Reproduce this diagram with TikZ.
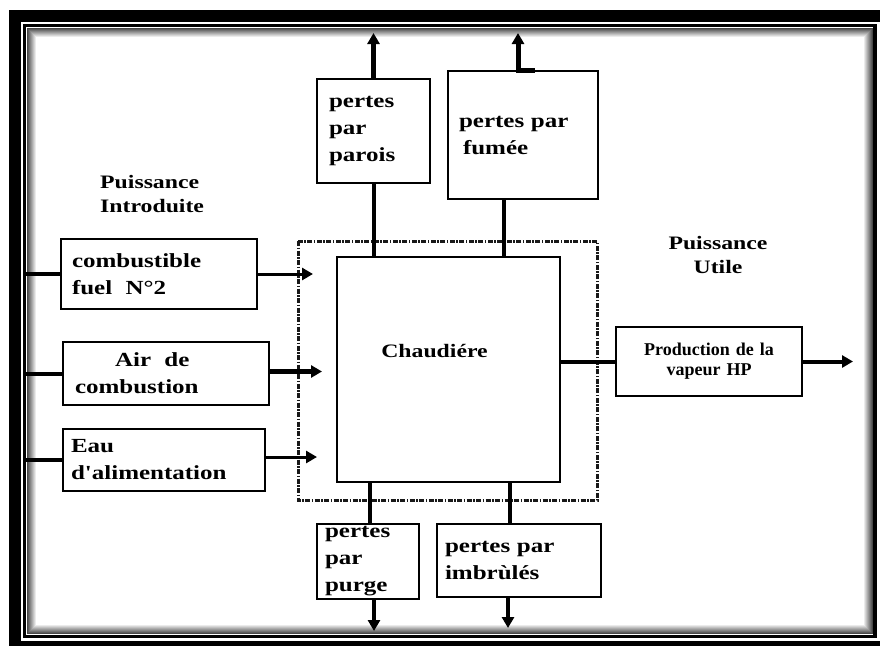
\documentclass[tikz,border=0pt]{standalone}
\usepackage{fontspec}
\setmainfont{Liberation Serif}
\newfontfamily\widefont{Liberation Serif}[FakeStretch=1.25]
\usetikzlibrary{arrows.meta}

\tikzset{
  bloc/.style={draw, line width=1.2pt, inner xsep=9pt, inner ysep=0pt, align=left,
    font=\widefont\bfseries\fontsize{20}{27}\selectfont},
  titre/.style={inner sep=0pt, font=\widefont\bfseries\fontsize{19}{24}\selectfont},
  lien/.style={line width=4pt},
  fleche/.style={line width=4pt, -{Triangle[length=11pt,width=12pt]}},
}

\begin{document}
\begin{tikzpicture}[x=1pt,y=-1pt]
        \useasboundingbox (0,0) rectangle (880,646);

        % cadre
        \fill[black] (9,10) rectangle (880,646);
        \fill[white] (21,22) rectangle (880,641);
        \foreach \k in {1,...,10} {
          \pgfmathtruncatemacro\g{80-8*\k}
          \draw[black!\g, line width=1pt] ({26+\k},{27+\k}) rectangle ({873-\k},{634-\k});
        }
        \draw[line width=3.5pt] (24.5,25.5) rectangle (875,636.5);

        % limite de la chaudiere
        \draw[black!90, line width=3pt, dash pattern=on 5pt off 1.5pt on 1.5pt off 1.5pt] (298,241) rectangle (597,500);

        % chaudiere
        \node[draw, line width=1.2pt, minimum width=223pt, minimum height=225pt,
          label={[xshift=-14pt, yshift=18pt, titre]center:Chaudiére}] (chaud) at (448.5,369.5) {};

        % pertes en haut
        \node[bloc, inner xsep=12pt, text width=89pt, minimum height=104pt] (parois) at (373.5,131) {pertes\\par\\parois};
        \node[bloc, inner xsep=11pt, text width=128pt, minimum height=128pt] (fumee) at (523,135) {pertes par\\\hspace*{4pt}fumée};

        % entrees
        \node[titre, anchor=north west, align=left] (introduite) at (100,175) {Puissance\\Introduite};
        \node[bloc, inner xsep=11pt, text width=174pt, minimum height=70pt] (comb) at (159,274) {combustible\\fuel\ \ N°2};
        \node[bloc, inner xsep=12pt, text width=182pt, minimum height=63pt] (air) at (166,373.5) {\hspace*{40pt}Air\ \ de\\combustion};
        \node[bloc, inner xsep=8pt, text width=186pt, minimum height=62pt] (eau) at (164,460) {Eau\\d'alimentation};

        % sortie
        \node[titre, align=center] (utile) at (718,255) {Puissance\\Utile};
        \node[bloc, align=center, text width=168pt, minimum height=69pt,
          font=\bfseries\fontsize{18}{20}\selectfont] (prod) at (709,361.5) {Production de la\\vapeur HP\\[-8pt]};

        % pertes en bas
        \node[bloc, inner xsep=8pt, text width=86pt, minimum height=75pt] (purge) at (368,561.5) {pertes\\par\\purge};
        \node[bloc, inner xsep=8pt, text width=148pt, minimum height=73pt] (imbr) at (519,560.5) {pertes par\\imbrùlés};

        % bouts libres
        \coordinate (bord) at (26,0);
        \coordinate (haut) at (0,33);
        \coordinate (bas) at (0,631);
        \coordinate (bas2) at (0,628);
        \coordinate (droite) at (853,0);
        \coordinate (combfin) at (313,0);
        \coordinate (airfin) at (322,0);
        \coordinate (eaufin) at (317,0);

        % arrivees
        \draw[lien, line width=3.5pt] (bord |- comb.west) -- (comb.west);
        \draw[lien] (bord |- air.west) -- (air.west);
        \draw[lien] (bord |- eau.west) -- (eau.west);
        \draw[fleche, line width=3pt] (comb.east) -- (comb.east -| combfin);
        \draw[fleche, line width=4.5pt] ([yshift=2pt]air.east) -- ([yshift=2pt]air.east -| airfin);
        \draw[fleche, line width=3pt] ([yshift=3pt]eau.east) -- ([yshift=3pt]eau.east -| eaufin);

        % pertes
        \draw[lien] (parois.south) -- (parois.south |- chaud.north);
        \draw[fleche, line width=5pt] (parois.north) -- (parois.north |- haut);
        \draw[lien] ([xshift=-19pt]fumee.south) -- ([xshift=-19pt]fumee.south |- chaud.north);
        \draw[fleche, line width=5pt] ([xshift=12pt]fumee.north) -- ([xshift=-5pt]fumee.north) -- ([xshift=-5pt]fumee.north |- haut);
        \draw[lien] ([xshift=2pt]purge.north |- chaud.south) -- ([xshift=2pt]purge.north);
        \draw[fleche] ([xshift=6pt]purge.south) -- ([xshift=6pt]purge.south |- bas);
        \draw[lien] ([xshift=-9pt]imbr.north |- chaud.south) -- ([xshift=-9pt]imbr.north);
        \draw[fleche] ([xshift=-11pt]imbr.south) -- ([xshift=-11pt]imbr.south |- bas2);

        % production
        \draw[lien] (chaud.east |- prod.west) -- (prod.west);
        \draw[fleche] (prod.east) -- (prod.east -| droite);
\end{tikzpicture}
\end{document}
